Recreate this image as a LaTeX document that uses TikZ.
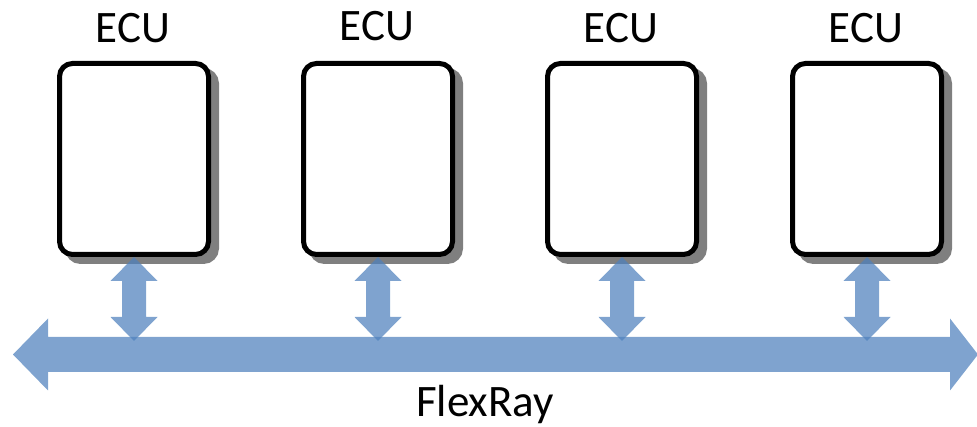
\documentclass[tikz,border=0pt]{standalone}
\usepackage{fontspec}
\setmainfont{Carlito}
\usetikzlibrary{calc}
\definecolor{busblue}{HTML}{4F81BD}
\definecolor{shadowgray}{HTML}{7F7F7F}
\tikzset{
  ecubox/.style={draw=black, line width=5pt, fill=white, rounded corners=13pt,
    minimum width=149pt, minimum height=191pt, inner sep=0pt,
    preaction={draw=shadowgray, fill=shadowgray, line width=5pt,
      transform canvas={xshift=8pt, yshift=-7pt}}},
  eculabel/.style={anchor=base, inner sep=0pt, font=\fontsize{45}{52}\selectfont},
  buslabel/.style={anchor=base, inner sep=0pt, font=\fontsize{45}{52}\selectfont},
  arrowfill/.style={fill=busblue, fill opacity=0.73, draw=none},
  pics/vlink/.style={code={
    \path[arrowfill] (0,0) -- (23.5,-24) -- (12,-24) -- (12,-60) -- (23.5,-60)
      -- (0,-84) -- (-23.5,-60) -- (-12,-60) -- (-12,-24) -- (-23.5,-24) -- cycle;
  }}
}
\begin{document}
\begin{tikzpicture}[x=1pt, y=1pt]
\useasboundingbox (0,0) rectangle (977,427);

% ECU boxes with labels
\foreach \i/\x/\ly in {1/134/384, 2/378/386, 3/622/384, 4/867/384} {
  \node[ecubox] (ecu\i) at (\x,268) {};
  \node[eculabel] (lab\i) at (\x-1,\ly) {ECU};
}

% bus end points
\coordinate (busL) at (13,72.5);
\coordinate (busR) at (978,72.5);

% FlexRay bus: double-headed horizontal arrow
\path[arrowfill] (busL) -- ($(busL)+(35,36)$) -- ($(busL)+(35,17.5)$)
  -- ($(busR)+(-28,17.5)$) -- ($(busR)+(-28,36)$) -- (busR)
  -- ($(busR)+(-28,-36)$) -- ($(busR)+(-28,-17.5)$)
  -- ($(busL)+(35,-17.5)$) -- ($(busL)+(35,-36)$) -- cycle;

% links from each ECU to the bus
\foreach \i in {1,...,4} {
  \pic at (ecu\i.south) {vlink};
}

\node[buslabel] (flexray) at (485,10) {FlexRay};
\end{tikzpicture}
\end{document}
